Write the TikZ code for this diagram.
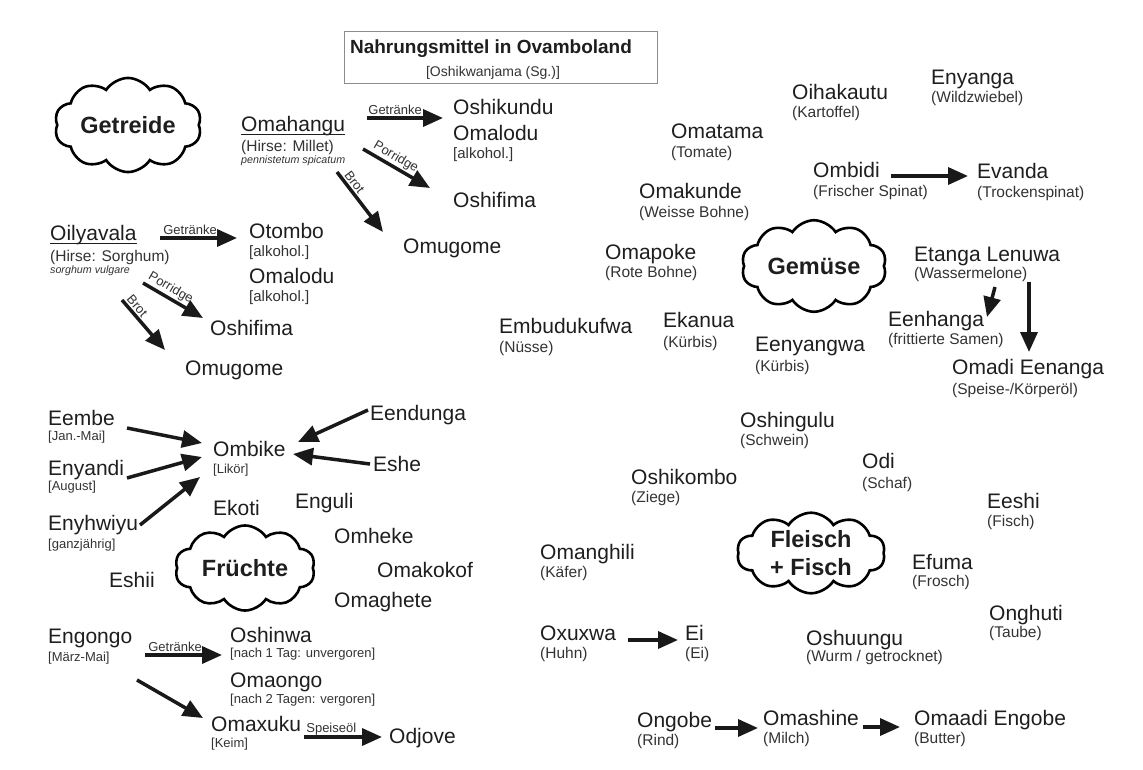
\documentclass[tikz,border=0pt]{standalone}
\usepackage{fontspec}
\setmainfont{Liberation Sans}
\usetikzlibrary{arrows.meta,shapes.symbols}
\definecolor{txt}{HTML}{1E1E1E}
\definecolor{txtb}{HTML}{333333}
\tikzset{
 main/.style={anchor=base west, inner sep=0pt, text=txt, font=\fontsize{21}{24}\selectfont},
 sub/.style={anchor=base west, inner sep=0pt, text=txtb, font=\fontsize{15.5}{18}\selectfont},
 brk/.style={anchor=base west, inner sep=0pt, text=txtb, font=\fontsize{13}{15}\selectfont},
 brkl/.style={anchor=base west, inner sep=0pt, text=txtb, font=\fontsize{15}{18}\selectfont},
 sci/.style={anchor=base west, inner sep=0pt, text=txtb, font=\itshape\fontsize{10.7}{12}\selectfont},
 lbl/.style={inner sep=1.5pt, text=txtb, font=\fontsize{13}{15}\selectfont},
 arr/.style={line width=3.5pt, draw=black!90, -{Triangle[length=20pt,width=17pt]}},
 cl/.style={cloud, cloud puffs=10, cloud puff arc=115, aspect=1.8, draw=black, line width=2.6pt, inner sep=0pt,
   font=\bfseries\fontsize{23.5}{28}\selectfont, text=txt, align=center},
 uline/.style={line width=1.3pt, draw=txt}
}
\begin{document}
\begin{tikzpicture}[x=1pt,y=-1pt]
\useasboundingbox (0,0) rectangle (1143,769);
\fill[white] (0,0) rectangle (1143,769);

% title
\node[draw=black!45, line width=1pt, minimum width=313pt, minimum height=52pt, anchor=north west, inner sep=0pt] (titlebox) at (344,31) {};
\node[anchor=base, inner sep=0pt, text=txt, font=\bfseries\fontsize{19}{22}\selectfont] (title) at (491,53) {Nahrungsmittel in Ovamboland};
\node[anchor=base, inner sep=0pt, text=txtb, font=\fontsize{14}{16}\selectfont] (subtitle) at (493,76) {[Oshikwanjama (Sg.)]};

% clouds
\node[cl, minimum width=147pt, minimum height=80pt] (getreide) at (128,125) {Getreide};
\node[cl, minimum width=140pt, minimum height=85pt] (fruechte) at (245,568) {Früchte};
\node[cl, minimum width=145pt, minimum height=82pt] (gemuese) at (814,266) {Gemüse};
\node[cl, minimum width=148pt, minimum height=78pt] (fleisch) at (811,553) {Fleisch\\+ Fisch};

% Getreide
\node[main] (omahangu) at (241,131) {Omahangu};
\draw[uline] ([yshift=-3.5pt]omahangu.base west) -- ([yshift=-3.5pt]omahangu.base east);
\node[sub] (omahangus) at (241,151) {(Hirse: Millet)};
\node[sci] (omahangul) at (241,163) {pennistetum spicatum};
\node[main] (oshikundu) at (453,114) {Oshikundu};
\node[main] (omalodua) at (453,140) {Omalodu};
\node[brkl] (omaloduas) at (453,158) {[alkohol.]};
\node[main] (oshifimaa) at (453,207) {Oshifima};
\node[main] (omugomea) at (403,253) {Omugome};

\node[main] (oilyavala) at (50,240) {Oilyavala};
\draw[uline] ([yshift=-3.5pt]oilyavala.base west) -- ([yshift=-3.5pt]oilyavala.base east);
\node[sub] (oilyavalas) at (50,261) {(Hirse: Sorghum)};
\node[sci] (oilyavalal) at (50,273) {sorghum vulgare};
\node[main] (otombo) at (249,238.5) {Otombo};
\node[brkl] (otombos) at (249,256) {[alkohol.]};
\node[main] (omalodub) at (249,283.5) {Omalodu};
\node[brkl] (omalodubs) at (249,301) {[alkohol.]};
\node[main] (oshifimab) at (210,335) {Oshifima};
\node[main] (omugomeb) at (185,375) {Omugome};

\draw[arr] ([xshift=126pt,yshift=13pt]omahangu.base west) -- node[lbl, above, pos=0.37] {Getränke} ([xshift=-10pt,yshift=-4pt]oshikundu.base west);
\draw[arr] ([xshift=122pt,yshift=-18pt]omahangu.base west) -- node[lbl, above, sloped, pos=0.42] {Porridge} ([xshift=-23pt,yshift=19pt]oshifimaa.base west);
\draw[arr] ([xshift=96pt,yshift=-41pt]omahangu.base west) -- node[lbl, above, sloped, pos=0.25] {Brot} ([xshift=-20pt,yshift=21pt]omugomea.base west);
\draw[arr] ([xshift=110pt,yshift=2pt]oilyavala.base west) -- node[lbl, above, pos=0.39] {Getränke} ([xshift=-12pt,yshift=0.5pt]otombo.base west);
\draw[arr] ([xshift=93pt,yshift=-43pt]oilyavala.base west) -- node[lbl, above, sloped, pos=0.38] {Porridge} ([xshift=-7pt,yshift=17pt]oshifimab.base west);
\draw[arr] ([xshift=72pt,yshift=-60pt]oilyavala.base west) -- node[lbl, above, sloped, pos=0.22] {Brot} ([xshift=-20pt,yshift=25pt]omugomeb.base west);

% Fruechte
\node[main] (eembe) at (48,425) {Eembe};
\node[brk] (eembes) at (48,440) {[Jan.-Mai]};
\node[main] (enyandi) at (48,475) {Enyandi};
\node[brk] (enyandis) at (48,490) {[August]};
\node[main] (enyhwiyu) at (48,530) {Enyhwiyu};
\node[brk] (enyhwiyus) at (48,548) {[ganzjährig]};
\node[main] (ombike) at (213,456) {Ombike};
\node[brk] (ombikes) at (213,473) {[Likör]};
\node[main] (eendunga) at (370,420) {Eendunga};
\node[main] (eshe) at (373,471) {Eshe};
\node[main] (ekoti) at (213,515) {Ekoti};
\node[main] (enguli) at (295,508) {Enguli};
\node[main] (omheke) at (334,543) {Omheke};
\node[main] (omakokof) at (377,577) {Omakokof};
\node[main] (omaghete) at (334,607) {Omaghete};
\node[main] (eshii) at (109,587) {Eshii};

\draw[arr] ([xshift=79pt,yshift=-3pt]eembe.base west) -- ([xshift=-11pt,yshift=13pt]ombike.base west);
\draw[arr] ([xshift=79pt,yshift=-3pt]enyandi.base west) -- ([xshift=-11pt,yshift=-1pt]ombike.base west);
\draw[arr] ([xshift=92pt,yshift=5pt]enyhwiyu.base west) -- ([xshift=-13pt,yshift=-21pt]ombike.base west);
\draw[arr] ([xshift=-2pt,yshift=10pt]eendunga.base west) -- ([xshift=85pt,yshift=14pt]ombike.base west);
\draw[arr] ([xshift=-3pt,yshift=7pt]eshe.base west) -- ([xshift=80pt,yshift=2pt]ombike.base west);

\node[main] (engongo) at (48,643) {Engongo};
\node[brk] (engongos) at (48,661) {[März-Mai]};
\node[main] (oshinwa) at (230,642) {Oshinwa};
\node[brk] (oshinwas) at (230,657) {[nach 1 Tag: unvergoren]};
\node[main] (omaongo) at (230,687) {Omaongo};
\node[brk] (omaongos) at (230,703) {[nach 2 Tagen: vergoren]};
\node[main] (omaxuku) at (211,731) {Omaxuku};
\node[brk] (omaxukus) at (211,747) {[Keim]};
\node[main] (odjove) at (389,743) {Odjove};

\draw[arr] ([xshift=97pt,yshift=-12pt]engongo.base west) -- node[lbl, above, pos=0.39] {Getränke} ([xshift=-8pt,yshift=-13pt]oshinwa.base west);
\draw[arr] ([xshift=89pt,yshift=-37pt]engongo.base west) -- ([xshift=-8pt,yshift=13pt]omaxuku.base west);
\draw[arr] ([xshift=93pt,yshift=-6pt]omaxuku.base west) -- node[lbl, above, pos=0.35, inner sep=0.5pt] {Speiseöl} ([xshift=-7pt,yshift=6pt]odjove.base west);

% Gemuese
\node[main] (oihakautu) at (792,99) {Oihakautu};
\node[sub] (oihakautus) at (792,117) {(Kartoffel)};
\node[main] (enyanga) at (931,84) {Enyanga};
\node[sub] (enyangas) at (931,102) {(Wildzwiebel)};
\node[main] (omatama) at (671,138) {Omatama};
\node[sub] (omatamas) at (671,157) {(Tomate)};
\node[main] (ombidi) at (813,177) {Ombidi};
\node[sub] (ombidis) at (813,196) {(Frischer Spinat)};
\node[main] (evanda) at (977,178) {Evanda};
\node[sub] (evandas) at (977,197) {(Trockenspinat)};
\node[main] (omakunde) at (639,198) {Omakunde};
\node[sub] (omakundes) at (639,217) {(Weisse Bohne)};
\node[main] (omapoke) at (605,259) {Omapoke};
\node[sub] (omapokes) at (605,277) {(Rote Bohne)};
\node[main] (etanga) at (914,261) {Etanga Lenuwa};
\node[sub] (etangas) at (914,278) {(Wassermelone)};
\node[main] (eenhanga) at (888,326) {Eenhanga};
\node[sub] (eenhangas) at (888,344) {(frittierte Samen)};
\node[main] (omadi) at (952,374) {Omadi Eenanga};
\node[sub] (omadis) at (952,394) {(Speise-/Körperöl)};
\node[main] (embudukufwa) at (499,333) {Embudukufwa};
\node[sub] (embudukufwas) at (499,352) {(Nüsse)};
\node[main] (ekanua) at (663,327) {Ekanua};
\node[sub] (ekanuas) at (663,347) {(Kürbis)};
\node[main] (eenyangwa) at (755,351) {Eenyangwa};
\node[sub] (eenyangwas) at (755,371) {(Kürbis)};

\draw[arr] ([xshift=78pt,yshift=1pt]ombidi.base west) -- ([xshift=-9pt,yshift=2pt]evanda.base west);
\draw[arr] ([xshift=81pt,yshift=-26pt]etanga.base west) -- ([xshift=99pt,yshift=9pt]eenhanga.base west);
\draw[arr] ([xshift=115pt,yshift=-21pt]etanga.base west) -- ([xshift=77pt,yshift=22pt]omadi.base west);

% Fleisch + Fisch
\node[main] (oshingulu) at (740,427) {Oshingulu};
\node[sub] (oshingulus) at (740,445) {(Schwein)};
\node[main] (odi) at (862,468) {Odi};
\node[sub] (odis) at (862,488) {(Schaf)};
\node[main] (oshikombo) at (631,484) {Oshikombo};
\node[sub] (oshikombos) at (631,502) {(Ziege)};
\node[main] (eeshi) at (987,508) {Eeshi};
\node[sub] (eeshis) at (987,526) {(Fisch)};
\node[main] (efuma) at (912,569) {Efuma};
\node[sub] (efumas) at (912,586) {(Frosch)};
\node[main] (omanghili) at (540,559) {Omanghili};
\node[sub] (omanghilis) at (540,577) {(Käfer)};
\node[main] (onghuti) at (989,620) {Onghuti};
\node[sub] (onghutis) at (989,637) {(Taube)};
\node[main] (oxuxwa) at (540,640) {Oxuxwa};
\node[sub] (oxuxwas) at (540,658) {(Huhn)};
\node[main] (ei) at (685,640) {Ei};
\node[sub] (eis) at (685,658) {(Ei)};
\node[main] (oshuungu) at (806,645) {Oshuungu};
\node[sub] (oshuungus) at (806,661) {(Wurm / getrocknet)};
\node[main] (ongobe) at (637,727) {Ongobe};
\node[sub] (ongobes) at (637,745) {(Rind)};
\node[main] (omashine) at (763,725) {Omashine};
\node[sub] (omashines) at (763,743) {(Milch)};
\node[main] (omaadi) at (914,725) {Omaadi Engobe};
\node[sub] (omaadis) at (914,743) {(Butter)};

\draw[arr] ([xshift=88pt]oxuxwa.base west) -- ([xshift=-7pt]ei.base west);
\draw[arr] ([xshift=78pt,yshift=-1pt]ongobe.base west) -- ([xshift=-5pt,yshift=-3pt]omashine.base west);
\draw[arr] ([xshift=100pt,yshift=-2pt]omashine.base west) -- ([xshift=-14pt,yshift=-2pt]omaadi.base west);
\end{tikzpicture}
\end{document}
